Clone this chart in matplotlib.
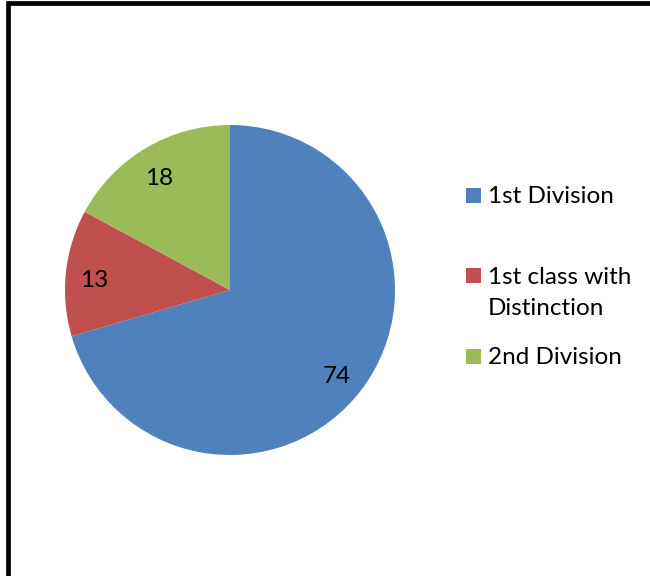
import matplotlib
matplotlib.use("Agg")
import matplotlib.pyplot as plt
from matplotlib.patches import Rectangle

labels = ["1st Division", "1st class with\nDistinction", "2nd Division"]
values = [74, 13, 18]
colors = ["#4F81BD", "#C0504D", "#9BBB59"]

plt.rcParams["font.family"] = ["Lato", "DejaVu Sans"]

W, H = 650, 576
fig = plt.figure(figsize=(W / 100, H / 100), dpi=100)

# pie area: centre (230, 290) px, radius 165 px
cx, cy, r = 230, 290, 165
ax = fig.add_axes([(cx - r) / W, 1 - (cy + r) / H, 2 * r / W, 2 * r / H])
total = sum(values)
wedges, texts, autotexts = ax.pie(
    values, colors=colors, startangle=90, counterclock=False,
    autopct=lambda p: "{:d}".format(int(round(p * total / 100))),
    pctdistance=0.82, textprops={"fontsize": 17.5, "color": "black"},
    wedgeprops={"linewidth": 0})
for t in autotexts:
    x, y = t.get_position()
    t.set_position((x - 0.01, y - 0.03))
ax.set_xlim(-1, 1)
ax.set_ylim(-1, 1)
ax.set_aspect("equal")

# legend drawn by hand to follow the spread-out layout
legend_y = [195, 275.5, 356]
for lab, col, y in zip(labels, colors, legend_y):
    fig.patches.append(Rectangle((466 / W, 1 - (y + 7.5) / H), 15 / W, 15 / H,
                                 transform=fig.transFigure, facecolor=col,
                                 edgecolor="none"))
    fig.text(488 / W, 1 - (y - 9) / H, lab, fontsize=17.5, va="top", ha="left",
             linespacing=1.64)

# outer frame
fig.patches.append(Rectangle((7.5 / W, -0.1), 1.2, 1.1 - 3.5 / H,
                             transform=fig.transFigure, fill=False,
                             edgecolor="black", linewidth=3.4))

fig.savefig("out.png", dpi=100)
